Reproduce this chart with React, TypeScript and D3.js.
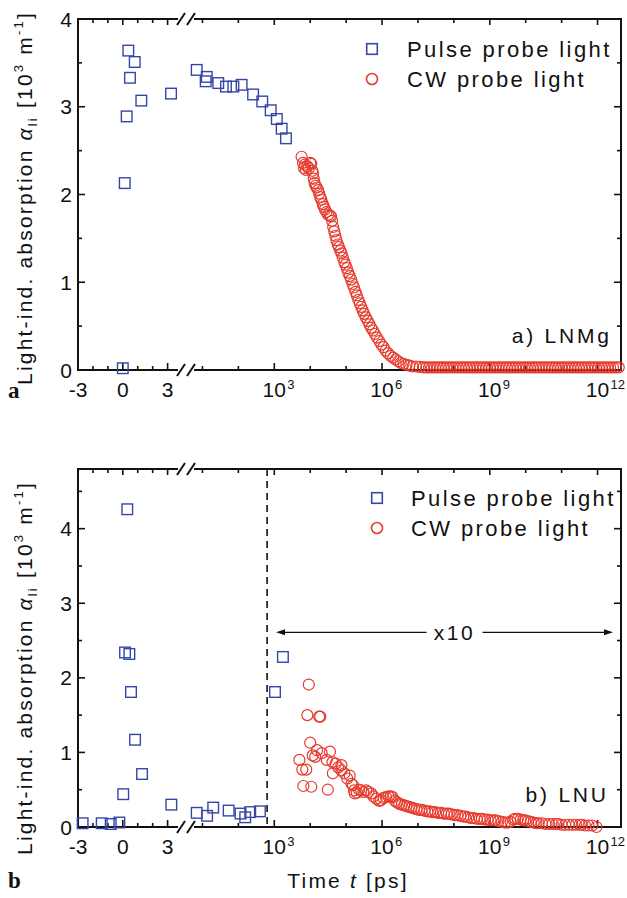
import React from 'react';
import * as d3 from 'd3';

const W = 627;
const H = 898;
const FONT = '"Liberation Sans", Arial, Helvetica, sans-serif';
const BLUE = '#3447a8';
const RED = '#e63b2e';

// ---------- x axis (linear part, then log part) ----------
const LIN_MIN = -3;
const BREAK_T = 4.5;
const LOG_MAX = 4.5e12;
const linMajor = [-3, 0, 3];
const linMinor = [-2, -1, 1, 2, 4];
const logMajorExp = [3, 6, 9, 12];
const logMinorExp = [1, 2, 4, 5, 7, 8, 10, 11];

// ---------- panel a) LNMg ----------
const aPulseLinT = [0, 0.13, 0.26, 0.37, 0.48, 0.8, 1.24, 3.23];
const aPulseLinV = [0.02, 2.13, 2.89, 3.64, 3.33, 3.51, 3.07, 3.15];
const aPulseLogExp = [0.84, 1.09, 1.12, 1.44, 1.655, 1.86, 2.09, 2.41, 2.665, 2.9, 3.07, 3.205, 3.325];
const aPulseLogV = [3.42, 3.29, 3.34, 3.27, 3.23, 3.23, 3.25, 3.14, 3.06, 2.96, 2.86, 2.75, 2.64];
const aCw: [number, number][] = [
  [3.76, 2.43], [3.8, 2.36], [3.83, 2.3], [3.85, 2.34], [3.88, 2.28], [3.92, 2.32], [3.96, 2.3],
  [4.0, 2.36], [4.03, 2.35], [4.06, 2.27], [4.08, 2.24], [4.1, 2.18], [4.12, 2.13], [4.15, 2.1],
  [4.18, 2.08], [4.22, 2.05], [4.25, 2.01], [4.28, 1.97], [4.31, 1.94], [4.35, 1.89], [4.38, 1.86],
  [4.41, 1.83], [4.45, 1.8], [4.5, 1.77], [4.55, 1.76], [4.58, 1.75], [4.61, 1.7], [4.64, 1.63],
  [4.67, 1.58], [4.7, 1.53], [4.73, 1.48], [4.77, 1.43], [4.8, 1.4], [4.84, 1.36], [4.87, 1.33],
  [4.91, 1.28], [4.95, 1.23], [4.98, 1.2], [5.02, 1.16], [5.06, 1.11], [5.1, 1.07], [5.14, 1.03],
  [5.18, 0.98], [5.22, 0.94], [5.26, 0.89], [5.3, 0.85], [5.34, 0.8], [5.38, 0.76], [5.42, 0.72],
  [5.46, 0.68], [5.5, 0.64], [5.55, 0.6], [5.6, 0.56], [5.65, 0.52], [5.7, 0.48], [5.75, 0.45],
  [5.8, 0.41], [5.86, 0.37], [5.92, 0.33], [5.98, 0.29], [6.04, 0.26], [6.1, 0.22], [6.17, 0.19],
  [6.24, 0.16], [6.31, 0.14], [6.38, 0.12], [6.45, 0.1], [6.52, 0.08], [6.6, 0.07], [6.68, 0.06],
  [6.76, 0.05], [6.85, 0.04], [6.95, 0.04], [7.05, 0.035], [7.15, 0.03], [7.23, 0.03], [7.31, 0.03],
  [7.39, 0.03], [7.47, 0.03], [7.55, 0.03], [7.63, 0.03], [7.71, 0.03], [7.79, 0.03], [7.87, 0.03],
  [7.95, 0.03], [8.03, 0.03], [8.11, 0.03], [8.19, 0.03], [8.27, 0.03], [8.35, 0.03], [8.43, 0.03],
  [8.51, 0.03], [8.59, 0.03], [8.67, 0.03], [8.75, 0.03], [8.83, 0.03], [8.91, 0.03], [8.99, 0.03],
  [9.07, 0.03], [9.15, 0.03], [9.23, 0.03], [9.31, 0.03], [9.39, 0.03], [9.47, 0.03], [9.55, 0.03],
  [9.63, 0.03], [9.71, 0.03], [9.79, 0.03], [9.87, 0.03], [9.95, 0.03], [10.03, 0.03], [10.11, 0.03],
  [10.19, 0.03], [10.27, 0.03], [10.35, 0.03], [10.43, 0.03], [10.51, 0.03], [10.59, 0.03],
  [10.67, 0.03], [10.75, 0.03], [10.83, 0.03], [10.91, 0.03], [10.99, 0.03], [11.07, 0.03],
  [11.15, 0.03], [11.23, 0.03], [11.31, 0.03], [11.39, 0.03], [11.47, 0.03], [11.55, 0.03],
  [11.63, 0.03], [11.71, 0.03], [11.79, 0.03], [11.87, 0.03], [11.95, 0.03], [12.03, 0.03],
  [12.11, 0.03], [12.19, 0.03], [12.27, 0.03], [12.35, 0.03], [12.43, 0.03], [12.51, 0.03], [12.59, 0.03],
];

// ---------- panel b) LNU (CW values shown x10) ----------
const bPulseLinT = [-2.69, -1.41, -0.81, -0.23, 0.03, 0.15, 0.3, 0.44, 0.55, 0.82, 1.29, 3.25];
const bPulseLinV = [0.05, 0.05, 0.04, 0.06, 0.44, 2.34, 4.26, 2.32, 1.81, 1.17, 0.71, 0.3];
const bPulseLogExp = [0.84, 1.13, 1.3, 1.73, 2.06, 2.19, 2.33, 2.6, 3.02, 3.24];
const bPulseLogV = [0.19, 0.15, 0.26, 0.22, 0.18, 0.13, 0.2, 0.21, 1.81, 2.28];
const bCw: [number, number][] = [
  [3.7, 0.9], [3.78, 0.77], [3.81, 0.55], [3.89, 0.77], [3.92, 1.5], [3.96, 1.91], [4.0, 1.13],
  [4.03, 0.54], [4.07, 0.96], [4.14, 0.94], [4.19, 1.03], [4.25, 1.48], [4.28, 1.48], [4.32, 0.99],
  [4.46, 0.9], [4.49, 0.5], [4.55, 1.01], [4.62, 0.87], [4.63, 0.72], [4.71, 0.85], [4.78, 0.8],
  [4.87, 0.76], [4.87, 0.83], [4.95, 0.72], [5.03, 0.65], [5.1, 0.69], [5.15, 0.58], [5.19, 0.56],
  [5.22, 0.49], [5.24, 0.45], [5.3, 0.46], [5.36, 0.5], [5.42, 0.49], [5.48, 0.47], [5.56, 0.49],
  [5.62, 0.47], [5.7, 0.45], [5.76, 0.41], [5.84, 0.38], [5.92, 0.35], [5.97, 0.36], [6.04, 0.39],
  [6.11, 0.4], [6.18, 0.41], [6.24, 0.41], [6.29, 0.4], [6.36, 0.35], [6.42, 0.33], [6.48, 0.31],
  [6.55, 0.3], [6.62, 0.29], [6.68, 0.28], [6.75, 0.27], [6.82, 0.26], [6.89, 0.25], [6.96, 0.24],
  [7.03, 0.23], [7.1, 0.23], [7.18, 0.22], [7.26, 0.21], [7.33, 0.21], [7.4, 0.2], [7.48, 0.2],
  [7.56, 0.19], [7.64, 0.19], [7.72, 0.18], [7.8, 0.18], [7.86, 0.18], [7.94, 0.17], [8.02, 0.16],
  [8.1, 0.16], [8.18, 0.15], [8.26, 0.14], [8.32, 0.14], [8.4, 0.13], [8.48, 0.12], [8.56, 0.12],
  [8.64, 0.11], [8.72, 0.11], [8.78, 0.11], [8.86, 0.1], [8.94, 0.1], [9.02, 0.09], [9.1, 0.09],
  [9.16, 0.09], [9.24, 0.08], [9.34, 0.07], [9.42, 0.06], [9.5, 0.06], [9.58, 0.07], [9.66, 0.1],
  [9.71, 0.11], [9.78, 0.11], [9.86, 0.1], [9.93, 0.09], [9.99, 0.09], [10.06, 0.08], [10.14, 0.07],
  [10.22, 0.06], [10.3, 0.05], [10.36, 0.05], [10.45, 0.05], [10.55, 0.04], [10.65, 0.04],
  [10.75, 0.04], [10.85, 0.04], [10.91, 0.04], [11.0, 0.03], [11.1, 0.03], [11.2, 0.03], [11.3, 0.03],
  [11.4, 0.03], [11.5, 0.03], [11.56, 0.03], [11.65, 0.02], [11.75, 0.02], [11.85, 0.02], [11.97, 0.0],
];
const bDashedExp = 2.8;
const bArrowExp = [3.05, 12.43];
const bArrowV = 2.61;

// ---------- layout ----------
const PL = 78;
const PR = 621;
const xLin = d3.scaleLinear().domain([LIN_MIN, BREAK_T]).range([PL, 190]);
const xLog = d3.scaleLog().domain([BREAK_T, LOG_MAX]).range([190, PR]);
const xs = (t: number) => (t <= BREAK_T ? xLin(t) : xLog(t));
const BREAK_X = 186;

type PanelProps = {
  top: number;
  bottom: number;
  yMax: number;
  pulseLin: [number[], number[]];
  pulseLog: [number[], number[]];
  cw: [number, number][];
  legendX: number;
  legendTextX: number;
  legendY: number;
  tag: string;
  tagX: number;
  tagY: number;
  letter: string;
  letterY: number;
  ylabelCy: number;
  children?: (y: d3.ScaleLinear<number, number>) => React.ReactNode;
};

function YLabel({ cy }: { cy: number }) {
  return (
    <text
      transform={`translate(32,${cy}) rotate(-90)`}
      textAnchor="middle"
      fontFamily={FONT}
      fontSize={21}
      letterSpacing={2.2}
      fill="#111"
    >
      Light-ind. absorption{' '}
      <tspan fontStyle="italic">α</tspan>
      <tspan fontSize={13} dy={5}>li</tspan>
      <tspan dy={-5}> [10</tspan>
      <tspan fontSize={13} dy={-9}>3</tspan>
      <tspan dy={9}> m</tspan>
      <tspan fontSize={13} dy={-9}>-1</tspan>
      <tspan dy={9}>]</tspan>
    </text>
  );
}

function Panel(p: PanelProps) {
  const y = d3.scaleLinear().domain([0, p.yMax]).range([p.bottom, p.top]);
  const yTicks = d3.range(0, p.yMax + 1e-9, 0.5);
  const sq = 10.6;
  const tickCol = '#111';
  const xMajors = [...linMajor.map((t) => xs(t)), ...logMajorExp.map((e) => xs(10 ** e))];
  const xMinors = [...linMinor.map((t) => xs(t)), ...logMinorExp.map((e) => xs(10 ** e))];
  return (
    <g>
      {/* ticks */}
      {xMajors.map((x, i) => (
        <g key={'xM' + i} stroke={tickCol} strokeWidth={1.6}>
          <line x1={x} x2={x} y1={p.bottom} y2={p.bottom - 7} />
          <line x1={x} x2={x} y1={p.top} y2={p.top + 6} />
        </g>
      ))}
      {xMinors.map((x, i) => (
        <g key={'xm' + i} stroke={tickCol} strokeWidth={1.6}>
          <line x1={x} x2={x} y1={p.bottom} y2={p.bottom - 4} />
          <line x1={x} x2={x} y1={p.top} y2={p.top + 4} />
        </g>
      ))}
      {yTicks.map((v, i) => {
        const major = Math.abs(v - Math.round(v)) < 1e-6;
        const len = major ? 7 : 4;
        return (
          <g key={'y' + i} stroke={tickCol} strokeWidth={1.6}>
            <line x1={PL} x2={PL + len} y1={y(v)} y2={y(v)} />
            <line x1={PR} x2={PR - len} y1={y(v)} y2={y(v)} />
          </g>
        );
      })}
      {/* frame */}
      <rect x={PL} y={p.top} width={PR - PL} height={p.bottom - p.top} fill="none" stroke="#111" strokeWidth={2} />
      {/* axis break */}
      {[p.top, p.bottom].map((yy, i) => (
        <g key={'br' + i}>
          <rect x={BREAK_X - 8} y={yy - 8} width={16} height={16} fill="#fff" />
          <line x1={BREAK_X - 9} x2={BREAK_X - 1} y1={yy + 6} y2={yy - 6} stroke="#111" strokeWidth={2} />
          <line x1={BREAK_X + 1} x2={BREAK_X + 9} y1={yy + 6} y2={yy - 6} stroke="#111" strokeWidth={2} />
        </g>
      ))}
      {/* y tick labels */}
      {yTicks
        .filter((v) => Math.abs(v - Math.round(v)) < 1e-6)
        .map((v) => (
          <text key={'yl' + v} x={72} y={y(v)} dy="0.36em" textAnchor="end" fontFamily={FONT} fontSize={21} fill="#111">
            {v}
          </text>
        ))}
      {/* x tick labels */}
      {linMajor.map((t) => (
        <text key={'xl' + t} x={xs(t)} y={p.bottom + 27} textAnchor="middle" fontFamily={FONT} fontSize={21} fill="#111">
          {t < 0 ? '-' + Math.abs(t) : t}
        </text>
      ))}
      {logMajorExp.map((e) => (
        <g key={'xe' + e} fontFamily={FONT} fill="#111">
          <text x={xs(10 ** e)} y={p.bottom + 27} textAnchor="middle" fontSize={21}>
            10
          </text>
          <text x={xs(10 ** e) + 13} y={p.bottom + 19} fontSize={13}>
            {e}
          </text>
        </g>
      ))}
      {p.children && p.children(y)}
      {/* data: CW circles */}
      {p.cw.map(([e, v], i) => (
        <circle key={'c' + i} cx={xs(10 ** e)} cy={y(v)} r={5.5} fill="none" stroke={RED} strokeWidth={1.2} />
      ))}
      {/* data: pulse squares */}
      {p.pulseLin[0].map((t, i) => (
        <rect key={'pl' + i} x={xs(t) - sq / 2} y={y(p.pulseLin[1][i]) - sq / 2} width={sq} height={sq} fill="none" stroke={BLUE} strokeWidth={1.4} />
      ))}
      {p.pulseLog[0].map((e, i) => (
        <rect key={'pg' + i} x={xs(10 ** e) - sq / 2} y={y(p.pulseLog[1][i]) - sq / 2} width={sq} height={sq} fill="none" stroke={BLUE} strokeWidth={1.4} />
      ))}
      {/* legend */}
      <rect x={p.legendX - 5.3} y={p.legendY - 5.3} width={10.6} height={10.6} fill="none" stroke={BLUE} strokeWidth={1.6} />
      <circle cx={p.legendX} cy={p.legendY + 30} r={5.5} fill="none" stroke={RED} strokeWidth={1.6} />
      <text x={p.legendTextX} y={p.legendY + 8} fontFamily={FONT} fontSize={22} letterSpacing={2.4} fill="#111">
        Pulse probe light
      </text>
      <text x={p.legendTextX} y={p.legendY + 38} fontFamily={FONT} fontSize={22} letterSpacing={2.4} fill="#111">
        CW probe light
      </text>
      {/* panel tag */}
      <text x={p.tagX + 2.8} y={p.tagY} textAnchor="end" fontFamily={FONT} fontSize={21} letterSpacing={2.8} fill="#111">
        {p.tag}
      </text>
      <text x={8} y={p.letterY} fontFamily='"Liberation Serif", "Times New Roman", serif' fontWeight="bold" fontSize={23} fill="#111">
        {p.letter}
      </text>
      <YLabel cy={p.ylabelCy} />
    </g>
  );
}

export default function App() {
  return (
    <svg width={W} height={H} viewBox={`0 0 ${W} ${H}`} style={{ position: 'absolute', left: 0, top: 0, background: '#fff' }}>
      <rect width={W} height={H} fill="#fff" />
      <Panel
        top={19}
        bottom={370}
        yMax={4}
        pulseLin={[aPulseLinT, aPulseLinV]}
        pulseLog={[aPulseLogExp, aPulseLogV]}
        cw={aCw}
        legendX={372}
        legendTextX={407}
        legendY={49}
        tag="a) LNMg"
        tagX={609}
        tagY={343}
        letter="a"
        letterY={398}
        ylabelCy={198}
      />
      <Panel
        top={469}
        bottom={827}
        yMax={4.8}
        pulseLin={[bPulseLinT, bPulseLinV]}
        pulseLog={[bPulseLogExp, bPulseLogV]}
        cw={bCw}
        legendX={377}
        legendTextX={411}
        legendY={498}
        tag="b) LNU"
        tagX={606}
        tagY={802}
        letter="b"
        letterY={888}
        ylabelCy={668}
      >
        {(y) => {
          const dx = xs(10 ** bDashedExp);
          const a0 = xs(10 ** bArrowExp[0]);
          const a1 = xs(10 ** bArrowExp[1]);
          const ay = y(bArrowV);
          const mid = (a0 + a1) / 2 + 8;
          return (
            <g>
              <line x1={dx} x2={dx} y1={469} y2={827} stroke="#111" strokeWidth={1.6} strokeDasharray="7,5" />
              <line x1={a0 + 6} x2={mid - 26} y1={ay} y2={ay} stroke="#111" strokeWidth={1.4} />
              <line x1={mid + 30} x2={a1 - 6} y1={ay} y2={ay} stroke="#111" strokeWidth={1.4} />
              <path d={`M${a0},${ay} L${a0 + 9},${ay - 3} L${a0 + 9},${ay + 3} Z`} fill="#111" />
              <path d={`M${a1},${ay} L${a1 - 9},${ay - 3} L${a1 - 9},${ay + 3} Z`} fill="#111" />
              <text x={mid + 2} y={ay + 8} textAnchor="middle" fontFamily={FONT} fontSize={21} letterSpacing={2.5} fill="#111">
                x10
              </text>
            </g>
          );
        }}
      </Panel>
      <text x={348} y={888} textAnchor="middle" fontFamily={FONT} fontSize={21} letterSpacing={2.2} fill="#111">
        Time <tspan fontStyle="italic">t</tspan> [ps]
      </text>
    </svg>
  );
}
